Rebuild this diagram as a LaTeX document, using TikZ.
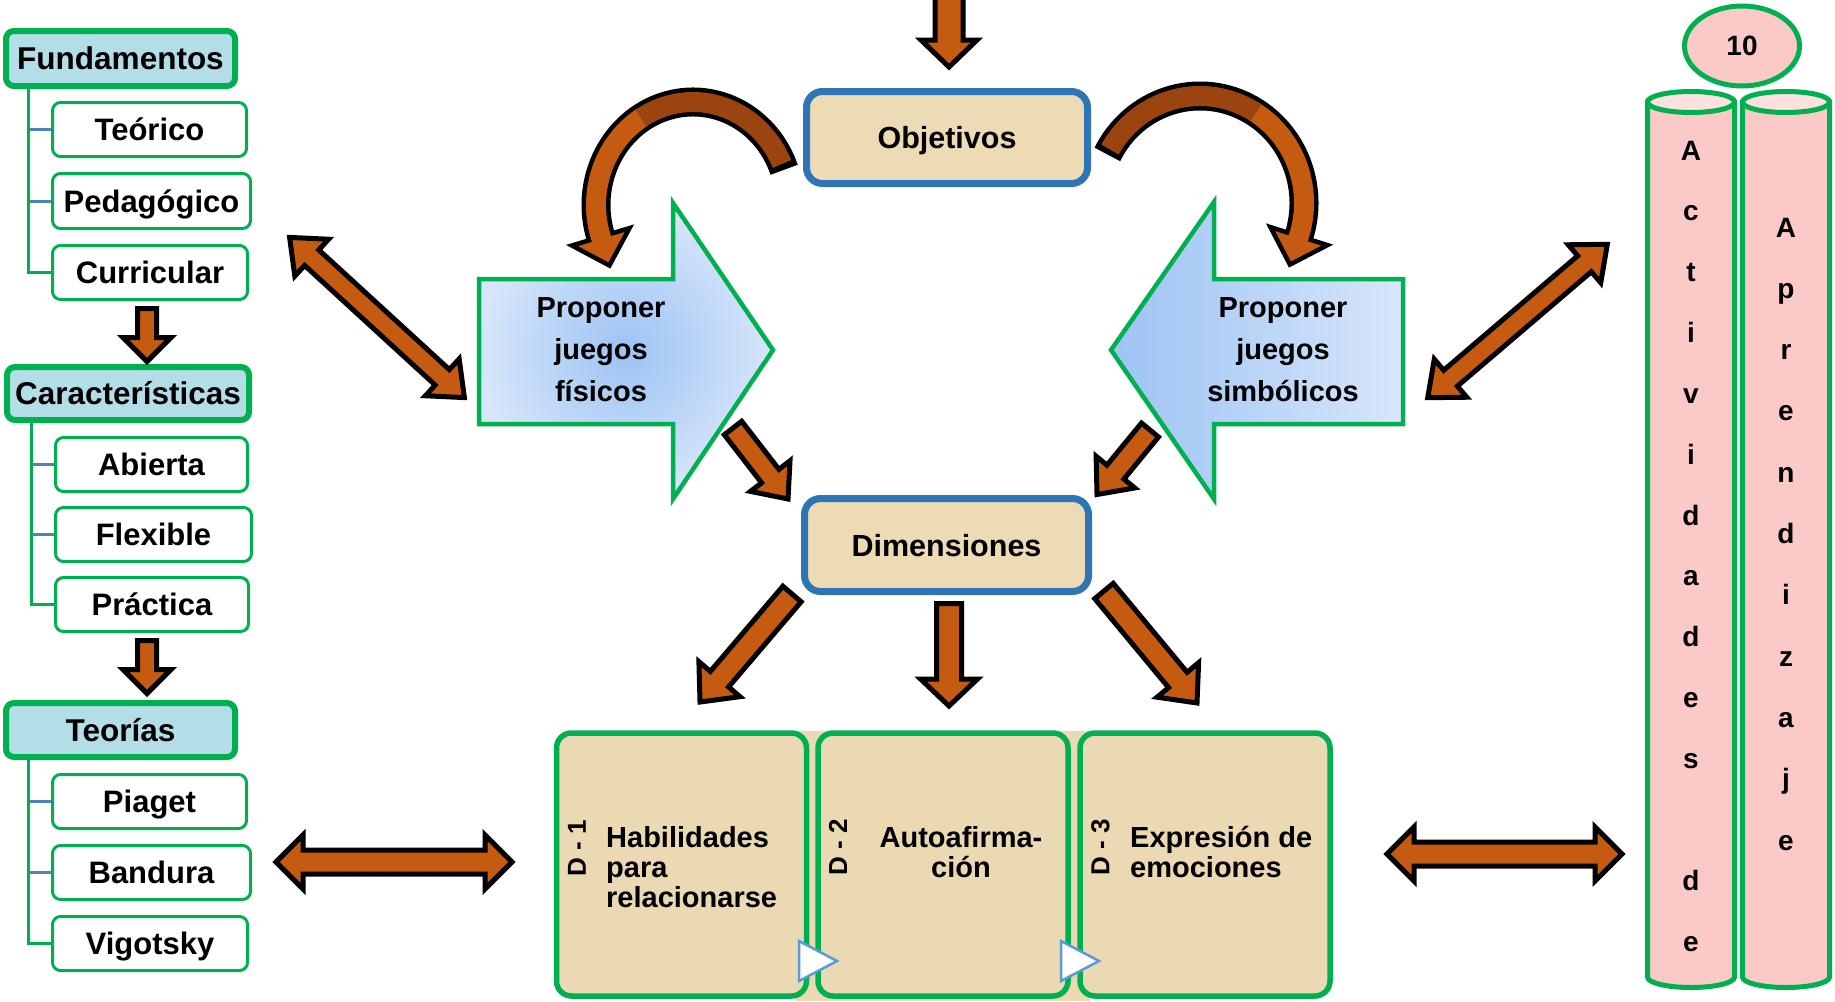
\documentclass[tikz,border=0pt]{standalone}
\usepackage{fontspec}
\setmainfont{Liberation Sans}
\usetikzlibrary{calc,shapes.geometric}
\definecolor{grn}{HTML}{00B050}
\definecolor{blu}{HTML}{2E75B6}
\definecolor{twigblue}{HTML}{4F81BD}
\definecolor{org}{HTML}{C55A11}
\definecolor{brn}{HTML}{9C4410}
\definecolor{ice}{HTML}{B3DEE8}
\definecolor{sand}{HTML}{EDDBB5}
\definecolor{sandd}{HTML}{EAD9B2}
\definecolor{pinkf}{HTML}{FCC9C9}
\definecolor{pinkt}{HTML}{FDE1E1}
\definecolor{skyA}{HTML}{9DC3F4}
\definecolor{skyB}{HTML}{D7E6FA}
\definecolor{triblue}{HTML}{5B9BD5}
% single block arrow: #1 tail, #2 tip, #3 shaft half width, #4 head half width, #5 head length
\newcommand{\blkarrow}[5]{%
  \path (#1) coordinate (qA) (#2) coordinate (qB);
  \path ($(qB)!#5!(qA)$) coordinate (qH);
  \draw[blockarrow] ($(qA)!#3!90:(qB)$) -- ($(qH)!#3!90:(qB)$) -- ($(qH)!#4!90:(qB)$) -- (qB)
     -- ($(qH)!#4!-90:(qB)$) -- ($(qH)!#3!-90:(qB)$) -- ($(qA)!#3!-90:(qB)$) -- cycle;}
% double block arrow
\newcommand{\dblkarrow}[5]{%
  \path (#1) coordinate (qA) (#2) coordinate (qB);
  \path ($(qA)!#5!(qB)$) coordinate (qH1) ($(qB)!#5!(qA)$) coordinate (qH2);
  \draw[blockarrow] (qA) -- ($(qH1)!#4!90:(qB)$) -- ($(qH1)!#3!90:(qB)$) -- ($(qH2)!#3!-90:(qA)$)
     -- ($(qH2)!#4!-90:(qA)$) -- (qB) -- ($(qH2)!#4!90:(qA)$) -- ($(qH2)!#3!90:(qA)$)
     -- ($(qH1)!#3!-90:(qB)$) -- ($(qH1)!#4!-90:(qB)$) -- cycle;}
\begin{document}
\begin{tikzpicture}[x=1pt,y=-1pt,
  hdr/.style={draw=grn, line width=6pt, fill=ice, rounded corners=8pt, inner sep=0pt, text height=22.7pt, text depth=0pt, font=\bfseries\fontsize{31.5}{36}\selectfont},
  sub/.style={draw=grn, line width=3pt, fill=white, rounded corners=8pt, inner sep=0pt, text height=22.3pt, text depth=0pt, font=\bfseries\fontsize{31}{36}\selectfont},
  mainbox/.style={draw=blu, line width=7pt, fill=sand, rounded corners=16pt, inner sep=0pt, text height=22pt, text depth=0pt, font=\bfseries\fontsize{30.5}{36}\selectfont},
  dbox/.style={draw=grn, line width=5.5pt, fill=sandd, rounded corners=15pt, inner sep=0pt, minimum width=250pt, minimum height=263pt},
  dlab/.style={rotate=90, inner sep=0pt, font=\bfseries\fontsize{26}{30}\selectfont},
  dtxt/.style={inner sep=0pt, font=\bfseries\fontsize{29}{30}\selectfont},
  ptxt/.style={inner sep=0pt, align=center, font=\bfseries\fontsize{29}{42}\selectfont},
  tree/.style={draw=grn, line width=3pt},
  twig/.style={draw=twigblue, line width=3pt},
  blockarrow/.style={fill=org, draw=black, line width=5pt, line join=miter},
  cyl/.style={draw=grn, line width=5pt, fill=pinkf},
  letter/.style={anchor=base, inner sep=0pt, font=\bfseries\fontsize{28}{30}\selectfont},
  play/.style={fill=white, draw=triblue, line width=2.5pt, line join=miter}
]
\useasboundingbox (0,0) rectangle (1835,1001);
\clip (0,0) rectangle (1835,1001);

% ---------------- left column ----------------
\node[hdr, minimum width=229pt, minimum height=55pt] (fund) at (120.5,58.5) {Fundamentos};
\node[sub, minimum width=194pt, minimum height=54pt] (teo) at (149.5,129.5) {Teórico};
\node[sub, minimum width=198pt, minimum height=55pt] (ped) at (151.5,201) {Pedagógico};
\node[sub, minimum width=195pt, minimum height=54pt] (cur) at (150,272.5) {Curricular};
\node[hdr, minimum width=242pt, minimum height=53pt] (car) at (128,393.5) {Características};
\node[sub, minimum width=192pt, minimum height=54pt] (abi) at (151.5,464.5) {Abierta};
\node[sub, minimum width=196pt, minimum height=54pt] (fle) at (153.5,534.5) {Flexible};
\node[sub, minimum width=193pt, minimum height=54pt] (pra) at (152,604.5) {Práctica};
\node[hdr, minimum width=229pt, minimum height=54pt] (teor) at (120.5,730) {Teorías};
\node[sub, minimum width=194pt, minimum height=54pt] (pia) at (149.5,801.5) {Piaget};
\node[sub, minimum width=198pt, minimum height=54pt] (ban) at (151.5,872.5) {Bandura};
\node[sub, minimum width=195pt, minimum height=54pt] (vig) at (150,943.5) {Vigotsky};

\coordinate (t1) at (28,87);
\coordinate (t2) at (31,421);
\coordinate (t3) at (28,758);
\draw[twig] (teo.west) -- (teo.west -| t1);
\draw[twig] (ped.west) -- (ped.west -| t1);
\draw[tree] (t1) |- (cur.west);
\draw[twig] (abi.west) -- (abi.west -| t2);
\draw[twig] (fle.west) -- (fle.west -| t2);
\draw[tree] (t2) |- (pra.west);
\draw[twig] (pia.west) -- (pia.west -| t3);
\draw[twig] (ban.west) -- (ban.west -| t3);
\draw[tree] (t3) |- (vig.west);

\coordinate (la1) at (147,308.5); \coordinate (la2) at (147,361.5);
\coordinate (lb1) at (147,640.5); \coordinate (lb2) at (147,693.5);
\blkarrow{la1}{la2}{9.5pt}{24pt}{24pt}
\blkarrow{lb1}{lb2}{9.5pt}{24pt}{24pt}

% ---------------- centre ----------------
\node[mainbox, minimum width=281pt, minimum height=92pt] (obj) at (947,137.5) {Objetivos};
\node[mainbox, minimum width=284pt, minimum height=93pt] (dim) at (946.5,545) {Dimensiones};

\coordinate (ta) at (949,-10); \coordinate (tb) at (949,67);
\blkarrow{ta}{tb}{14pt}{28pt}{27pt}

% Proponer juegos fisicos
\shadedraw[inner color=skyA, outer color=skyB, draw=grn, line width=4.5pt, line join=miter]
  (479,279) -- (673,279) -- (673,203) -- (773,350) -- (673,499) -- (673,424) -- (479,424) -- cycle;
\node[ptxt] (pf) at (601,349.5) {Proponer\\juegos\\físicos};
% Proponer juegos simbolicos
\shadedraw[left color=skyA, right color=skyB, draw=grn, line width=4.5pt, line join=miter]
  (1111,350) -- (1214,202) -- (1214,279) -- (1403,279) -- (1403,424) -- (1214,424) -- (1214,499) -- cycle;
\node[ptxt] (ps) at (1283,349.5) {Proponer\\juegos\\simbólicos};

% curved arrows from Objetivos
\coordinate (cl) at (693,205);
\draw[black, line width=29pt] ($(cl)+(20:97pt and 103pt)$) arc[start angle=20, end angle=198, x radius=97pt, y radius=103pt];
\filldraw[fill=org, draw=black, line width=4.5pt, line join=miter] (629.5,228.1) -- (609.4,265.5) -- (571.9,245.5) -- cycle;
\draw[org, line width=20pt] ($(cl)+(122:97pt and 103pt)$) arc[start angle=122, end angle=204, x radius=97pt, y radius=103pt];
\draw[brn, line width=20pt] ($(cl)+(23.5:97pt and 103pt)$) arc[start angle=23.5, end angle=122.5, x radius=97pt, y radius=103pt];

\coordinate (cr) at (1200,203);
\draw[black, line width=29pt] ($(cr)+(153:104pt and 107pt)$) arc[start angle=153, end angle=-18, x radius=104pt, y radius=107pt];
\filldraw[fill=org, draw=black, line width=4.5pt, line join=miter] (1327.4,245.1) -- (1289.9,264.6) -- (1270.4,227.1) -- cycle;
\draw[org, line width=20pt] ($(cr)+(58:104pt and 107pt)$) arc[start angle=58, end angle=-24, x radius=104pt, y radius=107pt];
\draw[brn, line width=20pt] ($(cr)+(150:104pt and 107pt)$) arc[start angle=150, end angle=57.5, x radius=104pt, y radius=107pt];

% arrows towards Dimensiones
\coordinate (fa) at (733,428); \coordinate (fb) at (788,499);
\blkarrow{fa}{fb}{11pt}{25pt}{29pt}
\coordinate (sa) at (1150,430); \coordinate (sb) at (1097,494.5);
\blkarrow{sa}{sb}{11pt}{25pt}{29pt}

% arrows from Dimensiones
\coordinate (da1) at (792,594); \coordinate (da2) at (700,702);
\blkarrow{da1}{da2}{12pt}{27pt}{30pt}
\coordinate (db1) at (949,603.5); \coordinate (db2) at (949,706);
\blkarrow{db1}{db2}{12.5pt}{28.5pt}{27pt}
\coordinate (dc1) at (1104,591); \coordinate (dc2) at (1197,703);
\blkarrow{dc1}{dc2}{12pt}{27pt}{30pt}

% double arrows
\coordinate (ua1) at (289.6,237.4); \coordinate (ua2) at (464.4,397.6);
\dblkarrow{ua1}{ua2}{10.5pt}{25pt}{30pt}
\coordinate (ub1) at (1427.7,397.7); \coordinate (ub2) at (1607.3,244.3);
\dblkarrow{ub1}{ub2}{10.5pt}{25pt}{30pt}
\coordinate (ha1) at (276,862); \coordinate (ha2) at (512,862);
\dblkarrow{ha1}{ha2}{12pt}{27pt}{27pt}
\coordinate (hb1) at (1387,854); \coordinate (hb2) at (1622,854);
\dblkarrow{hb1}{hb2}{12pt}{27pt}{27pt}

% ---------------- dimension boxes ----------------
\fill[sandd] (795,731) rectangle (1090,1001);
\node[dbox] (d1) at (681.5,864.5) {};
\node[dbox] (d2) at (943,864.5) {};
\node[dbox] (d3) at (1205,864.5) {};
\node[dlab] (d1l) at (577,848) {D - 1};
\node[dlab] (d2l) at (838,847) {D - 2};
\node[dlab] (d3l) at (1100.5,847) {D - 3};
\node[dtxt, align=left, anchor=west] (d1t) at (606,867.5) {Habilidades\\para\\relacionarse};
\node[dtxt, align=center] (d2t) at (961,852.5) {Autoafirma-\\ción};
\node[dtxt, align=left, anchor=west] (d3t) at (1130,852) {Expresión de\\emociones};
\draw[play] (799,941) -- (837,961) -- (799,981) -- cycle;
\draw[play] (1061,941) -- (1099,961) -- (1061,981) -- cycle;

% ---------------- cylinders ----------------
\filldraw[cyl] (1647.5,102) -- (1647.5,977) arc[start angle=180, end angle=360, x radius=43.5pt, y radius=10.5pt] -- (1734.5,102) -- cycle;
\filldraw[cyl, fill=pinkt] (1691,102) ellipse[x radius=43.5pt, y radius=10.5pt];
\filldraw[cyl] (1742.5,102) -- (1742.5,977) arc[start angle=180, end angle=360, x radius=43.5pt, y radius=10.5pt] -- (1829.5,102) -- cycle;
\filldraw[cyl, fill=pinkt] (1786,102) ellipse[x radius=43.5pt, y radius=10.5pt];
\node[ellipse, draw=grn, line width=5pt, fill=pinkf, minimum width=115pt, minimum height=80pt, inner sep=0pt, font=\bfseries\fontsize{28}{30}\selectfont] (ten) at (1742,46) {10};

\foreach \ch [count=\i] in {A,c,t,i,v,i,d,a,d,e,s}
  \node[letter] (ca\i) at (1691,{160+60.85*(\i-1)}) {\ch};
\node[letter] (cad) at (1691,{160+60.85*12}) {d};
\node[letter] (cae) at (1691,{160+60.85*13}) {e};
\foreach \ch [count=\i] in {A,p,r,e,n,d,i,z,a,j,e}
  \node[letter] (cb\i) at (1786,{237+61.3*(\i-1)}) {\ch};
\end{tikzpicture}
\end{document}
